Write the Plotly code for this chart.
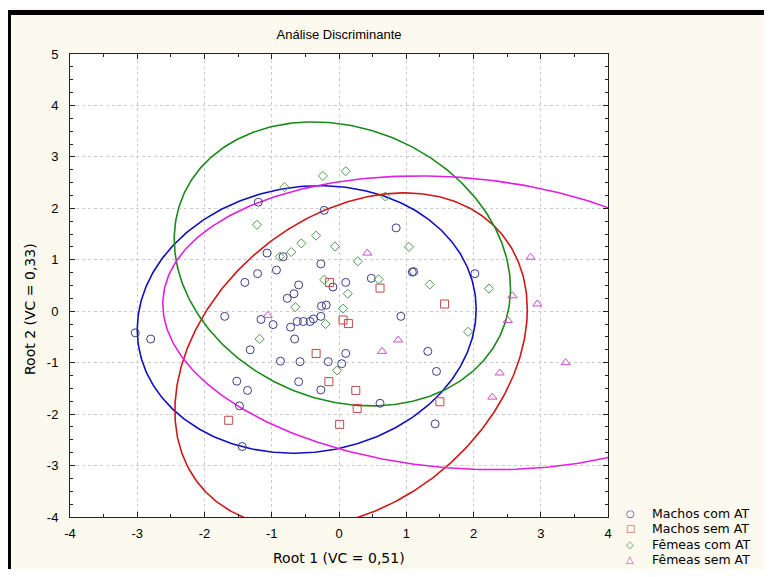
import numpy as np
import plotly.graph_objects as go

# ---------------- data ----------------
groups = ["Machos com AT", "Machos sem AT", "Fêmeas com AT", "Fêmeas sem AT"]

mca_x = [-1.20, -0.22, 0.85, -1.07, -0.83, -0.27, -1.21, -0.93, -1.40, -0.60, -0.09, 0.10,
         0.48, 1.09, 1.11, 2.02, -0.67, -0.77, -0.26, -0.19, -1.70, -1.16, -0.98, -0.72,
         -0.62, -0.53, -0.43, -0.38, -0.27, 0.92, -0.66, -1.32, -0.87, -0.58, -0.16, 0.04,
         0.10, 1.32, 1.45, -1.52, -1.36, -0.60, -0.27, -1.48, 0.61, 1.43, -1.44, -3.03, -2.80]
mca_y = [2.12, 1.96, 1.62, 1.13, 1.06, 0.92, 0.73, 0.80, 0.56, 0.51, 0.47, 0.56,
         0.64, 0.76, 0.77, 0.73, 0.34, 0.25, 0.10, 0.12, -0.10, -0.16, -0.26, -0.31,
         -0.20, -0.20, -0.20, -0.15, -0.10, -0.10, -0.54, -0.75, -0.97, -0.98, -0.98, -1.02,
         -0.82, -0.78, -1.17, -1.36, -1.54, -1.37, -1.53, -1.84, -1.79, -2.19, -2.63, -0.42, -0.54]

msa_x = [-0.14, 0.61, 1.57, 0.06, 0.14, -0.34, -0.15, 0.25, 0.27, 1.50, 0.01, -1.64]
msa_y = [0.56, 0.45, 0.14, -0.17, -0.24, -0.82, -1.37, -1.54, -1.89, -1.76, -2.20, -2.12]

fca_x = [-0.81, -0.24, 0.10, 0.69, -1.22, -0.34, -0.56, -0.06, -0.71, -0.88, 0.28, 1.04,
         -0.22, 0.59, 1.35, 2.23, 0.13, -0.65, 0.06, -0.20, -1.18, 1.92, -0.03]
fca_y = [2.41, 2.63, 2.72, 2.23, 1.68, 1.47, 1.32, 1.26, 1.15, 1.06, 0.97, 1.25,
         0.61, 0.62, 0.52, 0.44, 0.34, 0.08, 0.05, -0.25, -0.54, -0.40, -1.15]

fsa_x = [0.42, 2.85, 2.58, 2.95, 2.51, 0.88, 0.64, 3.37, 2.39, 2.28, -1.06]
fsa_y = [1.13, 1.05, 0.30, 0.14, -0.18, -0.56, -0.78, -1.00, -1.20, -1.67, -0.08]

# confidence ellipses: centre, half-width, half-height, cross term
ell_cx = [-0.48, 0.18, 0.05, 1.75]
ell_cy = [-0.16, -0.95, 0.92, -0.225]
ell_w = [2.52, 2.62, 2.50, 4.37]
ell_h = [2.60, 3.25, 2.76, 2.855]
ell_c = [0.50, 2.58, -1.20, -1.60]

xticks = [-4, -3, -2, -1, 0, 1, 2, 3, 4]
yticks = [-4, -3, -2, -1, 0, 1, 2, 3, 4, 5]

x_title = "Root 1 (VC = 0,51)"
y_title = "Root 2 (VC = 0,33)"
chart_title = "Análise Discriminante"

# ---------------- style ----------------
pt_colors = ["#3c3c8e", "#c04848", "#4f9a4f", "#c94cc9"]
ln_colors = ["#1010c0", "#d01818", "#1a8a1a", "#e020e0"]
symbols = ["circle-open", "square-open", "diamond-open", "triangle-up-open"]
legend_glyphs = ["○", "□", "◇", "△"]
sizes = [8, 8, 7, 8]
ARIAL = "Liberation Sans, Arial, sans-serif"
WIDE = "DejaVu Sans, Verdana, sans-serif"

# page body has an 8px margin: figure pixels = reference pixels - 8
FW, FH = 756, 561
L, T = 62, 46
R, B = FW - 600, FH - 509
PW, PH = FW - L - R, FH - T - B


def px2x(p):
    return (p - L) / PW


def py2y(p):
    return (FH - B - p) / PH


fig = go.Figure()

t = np.linspace(0, 2 * np.pi, 400)
for i in range(4):
    w, h, c = ell_w[i], ell_h[i], ell_c[i]
    ex = ell_cx[i] + w * np.cos(t)
    ey = ell_cy[i] + (c / w) * np.cos(t) + np.sqrt(h * h - (c / w) ** 2) * np.sin(t)
    fig.add_trace(go.Scatter(x=ex, y=ey, mode="lines", showlegend=False, hoverinfo="skip",
                             line=dict(color=ln_colors[i], width=1.6)))

pts = [(mca_x, mca_y), (msa_x, msa_y), (fca_x, fca_y), (fsa_x, fsa_y)]
for i, (px, py) in enumerate(pts):
    fig.add_trace(go.Scatter(x=px, y=py, mode="markers", name=groups[i], showlegend=False,
                             marker=dict(symbol=symbols[i], size=sizes[i], color=pt_colors[i],
                                         line=dict(width=1, color=pt_colors[i]))))

axis_common = dict(showgrid=True, gridcolor="#cccccc", griddash="dot", gridwidth=1,
                   showline=True, linecolor="#222222", linewidth=1, mirror="allticks",
                   ticks="inside", ticklen=5, tickcolor="#222222", zeroline=False,
                   automargin=False,
                   tickfont=dict(family=ARIAL, size=13, color="black"))

fig.update_layout(
    width=FW, height=FH,
    margin=dict(l=L, r=R, t=T, b=B, autoexpand=False),
    paper_bgcolor="#fcf9ee", plot_bgcolor="white",
    font=dict(family=ARIAL, size=13, color="black"),
    title=dict(text=chart_title, x=331 / FW, xanchor="center",
               y=1 - 26 / FH, yanchor="middle", font=dict(family=ARIAL, size=13, color="black")),
    xaxis=dict(range=[-4, 4], tickvals=xticks, ticktext=[str(v) for v in xticks],
               ticklabelstandoff=4,
               minor=dict(dtick=0.5, ticks="inside", ticklen=3, tickcolor="#222222", showgrid=False),
               **axis_common),
    yaxis=dict(range=[-4, 5], tickvals=yticks, ticktext=[str(v) for v in yticks],
               ticklabelstandoff=8,
               minor=dict(dtick=0.25, ticks="inside", ticklen=3, tickcolor="#222222", showgrid=False),
               **axis_common),
    showlegend=False,
)

# axis titles
fig.add_annotation(xref="paper", yref="paper", x=px2x(331), y=py2y(550),
                   xanchor="center", yanchor="middle", showarrow=False,
                   text=x_title, font=dict(family=WIDE, size=14, color="black"))
fig.add_annotation(xref="paper", yref="paper", x=px2x(22), y=py2y(301),
                   xanchor="center", yanchor="middle", showarrow=False, textangle=-90,
                   text=y_title, font=dict(family=WIDE, size=14, color="black"))

# legend drawn as text entries in the lower right margin
leg_y = [505, 520.5, 536, 551.5]
for i in range(4):
    fig.add_annotation(xref="paper", yref="paper", x=px2x(622), y=py2y(leg_y[i]),
                       xanchor="center", yanchor="middle", showarrow=False, borderpad=0,
                       text=legend_glyphs[i], font=dict(family=WIDE, size=10, color=pt_colors[i]))
    fig.add_annotation(xref="paper", yref="paper", x=px2x(643), y=py2y(leg_y[i]),
                       xanchor="left", yanchor="middle", showarrow=False, borderpad=0,
                       text=groups[i], font=dict(family=WIDE, size=12.5, color="black"))

# black frame along the top and left edges
fig.add_shape(type="rect", xref="paper", yref="paper", layer="above",
              x0=px2x(0), x1=px2x(FW), y0=py2y(7), y1=py2y(2),
              fillcolor="black", line=dict(width=0))
fig.add_shape(type="rect", xref="paper", yref="paper", layer="above",
              x0=px2x(0), x1=px2x(3), y0=py2y(FH), y1=py2y(2),
              fillcolor="black", line=dict(width=0))

fig.write_html("out.html")
